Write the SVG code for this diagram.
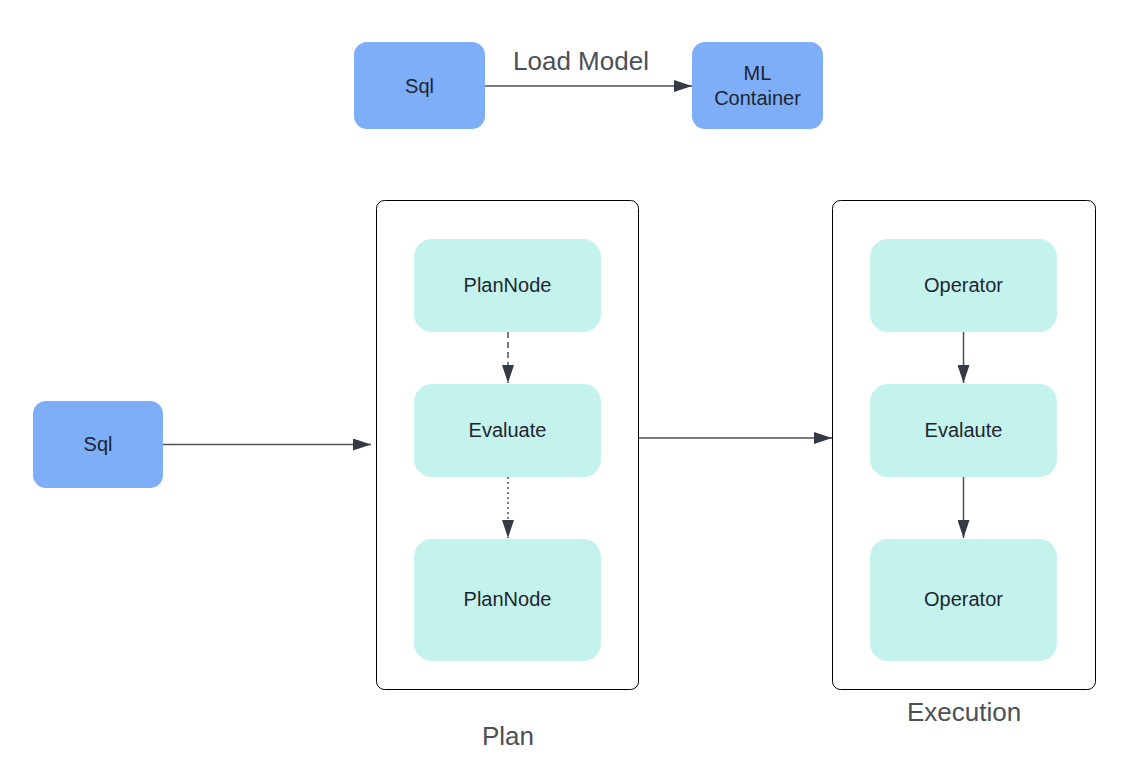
<svg xmlns="http://www.w3.org/2000/svg" width="1134" height="762" viewBox="0 0 1134 762">
<style>
.blue{fill:#7eaef7}
.teal{fill:#c4f3ed}
.box{fill:#ffffff;stroke:#000000;stroke-width:1}
.lbl{font-family:"Liberation Sans",Arial,sans-serif;font-size:20px;fill:#1d2530;text-anchor:middle}
.big{font-family:"Liberation Sans",Arial,sans-serif;font-size:26px;fill:#4b4f56;text-anchor:middle}
.ln{stroke:#4b4f56;stroke-width:1.5;fill:none}
</style>
<defs>
<marker id="ah" viewBox="0 0 18 12" refX="18" refY="6" markerWidth="18" markerHeight="12" markerUnits="userSpaceOnUse" orient="auto">
<path d="M0,0 L18,6 L0,12 Z" fill="#333a44"/>
</marker>
</defs>
<rect width="1134" height="762" fill="#ffffff"/>
<g id="plan-container">
<rect class="box" x="376.500" y="200.500" width="262" height="489" rx="8"/>
<text class="big" x="508" y="745">Plan</text>
</g>
<g id="execution-container">
<rect class="box" x="832.500" y="200.500" width="263" height="489" rx="8"/>
<text class="big" x="964" y="721">Execution</text>
</g>
<g id="sql-top">
<rect class="blue" x="354" y="42" width="131" height="87" rx="13"/>
<text class="lbl" x="419.500" y="93">Sql</text>
</g>
<g id="ml-container">
<rect class="blue" x="692" y="42" width="131" height="87" rx="13"/>
<text class="lbl" x="757.500" y="80">ML</text>
<text class="lbl" x="757.500" y="105">Container</text>
</g>
<g id="sql-left">
<rect class="blue" x="33" y="401" width="130" height="87" rx="13"/>
<text class="lbl" x="98" y="451">Sql</text>
</g>
<g id="plannode1">
<rect class="teal" x="414" y="239" width="187" height="93" rx="18"/>
<text class="lbl" x="507.500" y="292">PlanNode</text>
</g>
<g id="evaluate">
<rect class="teal" x="414" y="384" width="187" height="93" rx="18"/>
<text class="lbl" x="507.500" y="437">Evaluate</text>
</g>
<g id="plannode2">
<rect class="teal" x="414" y="539" width="187" height="122" rx="18"/>
<text class="lbl" x="507.500" y="606">PlanNode</text>
</g>
<g id="operator1">
<rect class="teal" x="870" y="239" width="187" height="93" rx="18"/>
<text class="lbl" x="963.500" y="292">Operator</text>
</g>
<g id="evalaute">
<rect class="teal" x="870" y="384" width="187" height="93" rx="18"/>
<text class="lbl" x="963.500" y="437">Evalaute</text>
</g>
<g id="operator2">
<rect class="teal" x="870" y="539" width="187" height="122" rx="18"/>
<text class="lbl" x="963.500" y="606">Operator</text>
</g>
<g id="connectors">
<line class="ln" x1="485" y1="86" x2="692" y2="86" marker-end="url(#ah)"/>
<text class="big" x="581" y="70">Load Model</text>
<line class="ln" x1="163" y1="444.500" x2="371" y2="444.500" marker-end="url(#ah)"/>
<line class="ln" x1="639" y1="438" x2="832" y2="438" marker-end="url(#ah)"/>
<line class="ln" x1="508" y1="332" x2="508" y2="383" stroke-dasharray="6,4" marker-end="url(#ah)"/>
<line class="ln" x1="508" y1="477" x2="508" y2="538" stroke-dasharray="2,3" marker-end="url(#ah)"/>
<line class="ln" x1="963.500" y1="332" x2="963.500" y2="383" marker-end="url(#ah)"/>
<line class="ln" x1="963.500" y1="477" x2="963.500" y2="538" marker-end="url(#ah)"/>
</g>
</svg>
